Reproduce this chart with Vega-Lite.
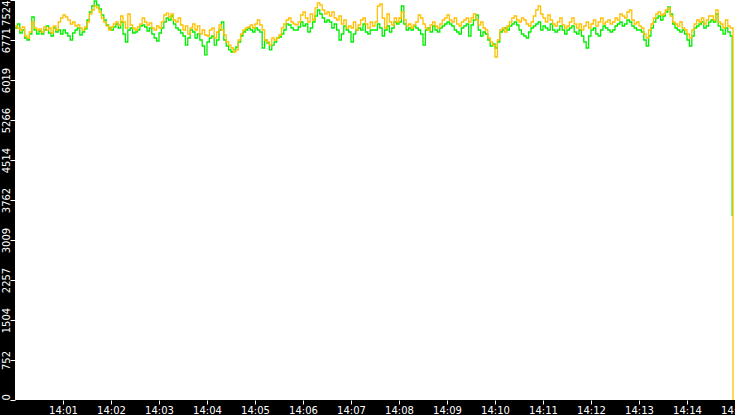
{
"$schema": "https://vega.github.io/schema/vega-lite/v6.json",
"width": 720, "height": 400,
"autosize": {"type": "none"},
"padding": {"left": 15, "top": 0, "right": 0, "bottom": 15},
"background": "#000000",
"config": {"view": {"fill": "#ffffff", "stroke": null},
 "axis": {"labelColor": "#ffffff", "tickColor": "#ffffff", "domain": false, "grid": false, "labelFont": "DejaVu Sans", "labelFontSize": 10, "title": null, "tickSize": 5, "tickWidth": 1}},
"data": {"values": [
{"t":0,"o":7035,"g":6997},{"t":3,"o":6997,"g":7073},{"t":6,"o":6960,"g":6903},{"t":9,"o":7016,"g":6960},{"t":12,"o":6847,"g":6809},{"t":15,"o":6809,"g":6772},{"t":18,"o":6922,"g":6884},{"t":21,"o":7110,"g":7204},{"t":24,"o":6997,"g":6960},{"t":27,"o":6960,"g":6884},
{"t":30,"o":6979,"g":6941},{"t":33,"o":6922,"g":6884},{"t":36,"o":7016,"g":6960},{"t":39,"o":6960,"g":7035},{"t":42,"o":6997,"g":6903},{"t":45,"o":6903,"g":6847},{"t":48,"o":7035,"g":6997},{"t":51,"o":6960,"g":6922},{"t":54,"o":7110,"g":6960},{"t":57,"o":7185,"g":6884},
{"t":60,"o":7242,"g":6960},{"t":63,"o":7204,"g":6903},{"t":66,"o":7148,"g":6847},{"t":69,"o":7073,"g":6772},{"t":72,"o":7110,"g":6903},{"t":75,"o":7035,"g":6960},{"t":78,"o":7054,"g":6997},{"t":81,"o":6997,"g":6866},{"t":84,"o":6960,"g":6922},{"t":87,"o":7016,"g":6979},
{"t":90,"o":7110,"g":7148},{"t":93,"o":7261,"g":7298},{"t":96,"o":7336,"g":7411},{"t":99,"o":7411,"g":7505},{"t":102,"o":7374,"g":7430},{"t":105,"o":7298,"g":7355},{"t":108,"o":7185,"g":7242},{"t":111,"o":7110,"g":7148},{"t":114,"o":7035,"g":7054},{"t":117,"o":6960,"g":6997},
{"t":120,"o":7016,"g":6960},{"t":123,"o":7073,"g":7016},{"t":126,"o":7110,"g":7073},{"t":129,"o":7054,"g":6997},{"t":132,"o":7223,"g":7110},{"t":135,"o":7110,"g":6884},{"t":138,"o":6997,"g":6734},{"t":141,"o":7261,"g":6960},{"t":144,"o":7054,"g":6997},{"t":147,"o":6997,"g":6903},
{"t":150,"o":6960,"g":6922},{"t":153,"o":7016,"g":6960},{"t":156,"o":7073,"g":7035},{"t":159,"o":7185,"g":7054},{"t":162,"o":7110,"g":7016},{"t":165,"o":7054,"g":6941},{"t":168,"o":7091,"g":6997},{"t":171,"o":6997,"g":6884},{"t":174,"o":6960,"g":6809},{"t":177,"o":7035,"g":6753},
{"t":180,"o":6997,"g":6903},{"t":183,"o":7110,"g":6997},{"t":186,"o":7242,"g":7110},{"t":189,"o":7279,"g":7185},{"t":192,"o":7204,"g":7148},{"t":195,"o":7261,"g":7223},{"t":198,"o":7148,"g":7073},{"t":201,"o":7110,"g":6997},{"t":204,"o":7185,"g":6960},{"t":207,"o":7054,"g":6903},
{"t":210,"o":6960,"g":6847},{"t":213,"o":7035,"g":6677},{"t":216,"o":6884,"g":6809},{"t":219,"o":6997,"g":6960},{"t":222,"o":7073,"g":6922},{"t":225,"o":6960,"g":6809},{"t":228,"o":7035,"g":6884},{"t":231,"o":6884,"g":6772},{"t":234,"o":6960,"g":6659},{"t":237,"o":6866,"g":6490},
{"t":240,"o":6847,"g":6734},{"t":243,"o":6960,"g":6809},{"t":246,"o":6997,"g":6847},{"t":249,"o":6809,"g":6677},{"t":252,"o":6922,"g":6772},{"t":255,"o":7054,"g":6960},{"t":258,"o":6960,"g":7110},{"t":261,"o":6866,"g":6772},{"t":264,"o":6734,"g":6659},{"t":267,"o":6677,"g":6584},
{"t":270,"o":6621,"g":6546},{"t":273,"o":6546,"g":6584},{"t":276,"o":6584,"g":6640},{"t":279,"o":6772,"g":6734},{"t":282,"o":6884,"g":6847},{"t":285,"o":6960,"g":6922},{"t":288,"o":6997,"g":6960},{"t":291,"o":7016,"g":6997},{"t":294,"o":7054,"g":6960},{"t":297,"o":6997,"g":6922},
{"t":300,"o":7073,"g":6997},{"t":303,"o":7148,"g":6960},{"t":306,"o":7054,"g":6922},{"t":309,"o":6960,"g":6621},{"t":312,"o":6772,"g":6772},{"t":315,"o":6734,"g":6715},{"t":318,"o":6677,"g":6584},{"t":321,"o":6809,"g":6677},{"t":324,"o":6772,"g":6734},{"t":327,"o":6809,"g":6809},
{"t":330,"o":6866,"g":6828},{"t":333,"o":6997,"g":6884},{"t":336,"o":7073,"g":6960},{"t":339,"o":7148,"g":7073},{"t":342,"o":7185,"g":7054},{"t":345,"o":7110,"g":6997},{"t":348,"o":7073,"g":6960},{"t":351,"o":7054,"g":6960},{"t":354,"o":7110,"g":7016},{"t":357,"o":7242,"g":7110},
{"t":360,"o":7298,"g":7035},{"t":363,"o":7185,"g":7073},{"t":366,"o":7110,"g":6922},{"t":369,"o":7261,"g":6997},{"t":372,"o":7148,"g":7110},{"t":375,"o":7374,"g":7223},{"t":378,"o":7468,"g":7336},{"t":381,"o":7430,"g":7261},{"t":384,"o":7336,"g":7185},{"t":387,"o":7261,"g":7110},
{"t":390,"o":7298,"g":7148},{"t":393,"o":7223,"g":7110},{"t":396,"o":7298,"g":6997},{"t":399,"o":7185,"g":7073},{"t":402,"o":7148,"g":6960},{"t":405,"o":7223,"g":6772},{"t":408,"o":7073,"g":6884},{"t":411,"o":7148,"g":7035},{"t":414,"o":6997,"g":6960},{"t":417,"o":7035,"g":6922},
{"t":420,"o":6997,"g":6734},{"t":423,"o":7110,"g":6884},{"t":426,"o":6960,"g":6960},{"t":429,"o":7054,"g":6997},{"t":432,"o":7148,"g":6960},{"t":435,"o":7185,"g":7073},{"t":438,"o":7073,"g":6922},{"t":441,"o":6997,"g":6884},{"t":444,"o":7110,"g":6960},{"t":447,"o":7035,"g":6960},
{"t":450,"o":7110,"g":6960},{"t":453,"o":7411,"g":7073},{"t":456,"o":7449,"g":6997},{"t":459,"o":7185,"g":6847},{"t":462,"o":6997,"g":6960},{"t":465,"o":7261,"g":7035},{"t":468,"o":7110,"g":6922},{"t":471,"o":7054,"g":6997},{"t":474,"o":7185,"g":7110},{"t":477,"o":7110,"g":7073},
{"t":480,"o":7185,"g":7110},{"t":483,"o":7298,"g":7411},{"t":486,"o":7148,"g":7073},{"t":489,"o":7035,"g":6960},{"t":492,"o":7073,"g":6997},{"t":495,"o":6997,"g":6960},{"t":498,"o":7054,"g":7035},{"t":501,"o":7110,"g":6997},{"t":504,"o":7242,"g":6960},{"t":507,"o":7185,"g":6884},
{"t":510,"o":7073,"g":6677},{"t":513,"o":6997,"g":6960},{"t":516,"o":6960,"g":6997},{"t":519,"o":7054,"g":6922},{"t":522,"o":7110,"g":7035},{"t":525,"o":7035,"g":6960},{"t":528,"o":6997,"g":6922},{"t":531,"o":7073,"g":6997},{"t":534,"o":7148,"g":7035},{"t":537,"o":7185,"g":7073},
{"t":540,"o":7242,"g":7110},{"t":543,"o":7148,"g":7073},{"t":546,"o":7110,"g":7035},{"t":549,"o":7185,"g":6960},{"t":552,"o":7073,"g":6922},{"t":555,"o":7035,"g":6884},{"t":558,"o":7110,"g":6997},{"t":561,"o":7148,"g":7035},{"t":564,"o":7185,"g":7073},{"t":567,"o":7110,"g":6847},
{"t":570,"o":7185,"g":7054},{"t":573,"o":7261,"g":7148},{"t":576,"o":7148,"g":7242},{"t":579,"o":7054,"g":6960},{"t":582,"o":7110,"g":6847},{"t":585,"o":6997,"g":6922},{"t":588,"o":6960,"g":6884},{"t":591,"o":6809,"g":6772},{"t":594,"o":6734,"g":6659},{"t":597,"o":6677,"g":6696},
{"t":600,"o":6452,"g":6621},{"t":603,"o":6772,"g":6734},{"t":606,"o":6960,"g":6922},{"t":609,"o":6997,"g":6960},{"t":612,"o":6922,"g":6997},{"t":615,"o":7035,"g":6960},{"t":618,"o":7110,"g":7035},{"t":621,"o":7185,"g":7073},{"t":624,"o":7223,"g":7110},{"t":627,"o":7148,"g":7054},
{"t":630,"o":7110,"g":6960},{"t":633,"o":7185,"g":6884},{"t":636,"o":7148,"g":6847},{"t":639,"o":7073,"g":6809},{"t":642,"o":7035,"g":6922},{"t":645,"o":7110,"g":6997},{"t":648,"o":7223,"g":7035},{"t":651,"o":7336,"g":7073},{"t":654,"o":7411,"g":7110},{"t":657,"o":7261,"g":6960},
{"t":660,"o":7185,"g":7035},{"t":663,"o":7110,"g":6997},{"t":666,"o":7242,"g":6960},{"t":669,"o":7148,"g":7073},{"t":672,"o":7073,"g":6960},{"t":675,"o":7035,"g":6922},{"t":678,"o":7110,"g":6960},{"t":681,"o":7185,"g":7035},{"t":684,"o":7054,"g":6960},{"t":687,"o":6997,"g":6884},
{"t":690,"o":7035,"g":6960},{"t":693,"o":7110,"g":6997},{"t":696,"o":7185,"g":7035},{"t":699,"o":7073,"g":6922},{"t":702,"o":6997,"g":6884},{"t":705,"o":7073,"g":6960},{"t":708,"o":6960,"g":6847},{"t":711,"o":7035,"g":6734},{"t":714,"o":7110,"g":6621},{"t":717,"o":6997,"g":6847},
{"t":720,"o":7073,"g":6960},{"t":723,"o":7148,"g":6997},{"t":726,"o":7035,"g":6884},{"t":729,"o":7110,"g":6847},{"t":732,"o":7185,"g":6960},{"t":735,"o":7073,"g":7035},{"t":738,"o":7110,"g":6997},{"t":741,"o":7148,"g":6960},{"t":744,"o":7073,"g":6922},{"t":747,"o":7110,"g":6960},
{"t":750,"o":7185,"g":7035},{"t":753,"o":7148,"g":7073},{"t":756,"o":7261,"g":7110},{"t":759,"o":7223,"g":7035},{"t":762,"o":7185,"g":7073},{"t":765,"o":7298,"g":7148},{"t":768,"o":7336,"g":7110},{"t":771,"o":7148,"g":7035},{"t":774,"o":7073,"g":6997},{"t":777,"o":7110,"g":6960},
{"t":780,"o":7035,"g":6960},{"t":783,"o":6997,"g":6922},{"t":786,"o":6884,"g":6772},{"t":789,"o":6809,"g":6659},{"t":792,"o":6960,"g":6847},{"t":795,"o":7073,"g":6997},{"t":798,"o":7185,"g":7110},{"t":801,"o":7261,"g":7185},{"t":804,"o":7298,"g":7223},{"t":807,"o":7242,"g":7148},
{"t":810,"o":7261,"g":7223},{"t":813,"o":7336,"g":7298},{"t":816,"o":7374,"g":7392},{"t":819,"o":7223,"g":7261},{"t":822,"o":7110,"g":7073},{"t":825,"o":7073,"g":6997},{"t":828,"o":7035,"g":6960},{"t":831,"o":7110,"g":6922},{"t":834,"o":6997,"g":6960},{"t":837,"o":6960,"g":6884},
{"t":840,"o":6884,"g":6772},{"t":843,"o":6809,"g":6659},{"t":846,"o":6960,"g":6847},{"t":849,"o":7073,"g":6997},{"t":852,"o":7148,"g":7035},{"t":855,"o":7110,"g":7073},{"t":858,"o":7185,"g":7110},{"t":861,"o":7073,"g":6997},{"t":864,"o":7148,"g":7035},{"t":867,"o":7223,"g":7110},
{"t":870,"o":7223,"g":7148},{"t":873,"o":7148,"g":7110},{"t":876,"o":7336,"g":7261},{"t":879,"o":7110,"g":7035},{"t":882,"o":7073,"g":6960},{"t":885,"o":6997,"g":6884},{"t":888,"o":7148,"g":6997},{"t":891,"o":7035,"g":6922},{"t":894,"o":6997,"g":6847},
{"t":896.5,"o":null,"g":3461},
{"t":897.5,"o":0,"g":null}
]},
"encoding": {
 "x": {"field": "t", "type": "quantitative",
  "scale": {"domain": [0, 900], "nice": false, "zero": false},
  "axis": {"values": [60,120,180,240,300,360,420,480,540,600,660,720,780,840,900],
   "labelExpr": "'14:' + (datum.value < 600 ? '0' : '') + (datum.value / 60)",
   "labelFlush": false, "labelOverlap": false, "labelPadding": 1, "tickSize": 4}}
},
"layer": [
 {"transform": [{"filter": "datum.g != null"}],
  "mark": {"type": "line", "strokeWidth": 1.3, "interpolate": "step-after", "clip": true, "color": "#00ee00", "invalid": "filter"},
  "encoding": {"y": {"field": "g", "type": "quantitative",
   "scale": {"domain": [0, 7524], "nice": false},
   "axis": {"values": [0,752,1504,2257,3009,3762,4514,5266,6019,6771,7524],
    "format": "d", "labelAngle": -90, "labelBaseline": "alphabetic", "labelPadding": 0.5,
    "labelFlush": false, "labelOverlap": false,
    "labelAlign": {"condition": [{"test": "datum.value <= 0", "value": "left"}, {"test": "datum.value >= 7524", "value": "right"}], "value": "center"}}}}},
 {"transform": [{"filter": "datum.o != null"}],
  "mark": {"type": "line", "strokeWidth": 1.3, "interpolate": "step-after", "clip": true, "color": "#ffc000", "invalid": "filter"},
  "encoding": {"y": {"field": "o", "type": "quantitative",
   "scale": {"domain": [0, 7524], "nice": false},
   "axis": {"values": [0,752,1504,2257,3009,3762,4514,5266,6019,6771,7524],
    "format": "d", "labelAngle": -90, "labelBaseline": "alphabetic", "labelPadding": 0.5,
    "labelFlush": false, "labelOverlap": false,
    "labelAlign": {"condition": [{"test": "datum.value <= 0", "value": "left"}, {"test": "datum.value >= 7524", "value": "right"}], "value": "center"}}}}}
]
}
